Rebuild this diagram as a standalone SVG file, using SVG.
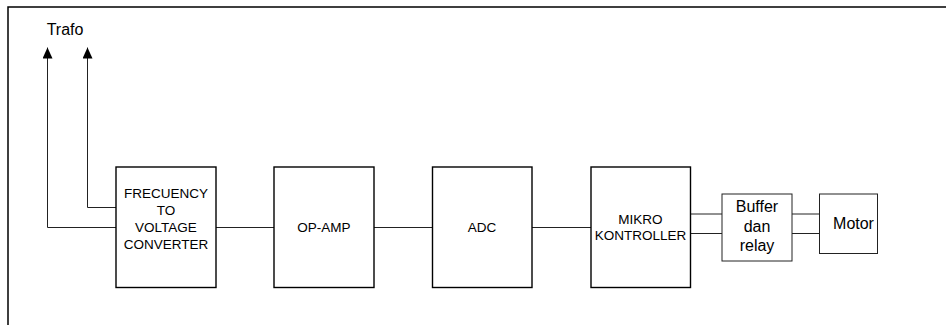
<svg xmlns="http://www.w3.org/2000/svg" width="946" height="325" viewBox="0 0 946 325">
<style>
.blk{fill:#fff;stroke:#000;stroke-width:1.4}
.sm{fill:#fff;stroke:#222;stroke-width:1}
.ln{fill:none;stroke:#222;stroke-width:1}
.t{font-family:"Liberation Sans",Arial,sans-serif;fill:#000;text-anchor:middle}
.s13{font-size:13.5px}
.s16{font-size:16px}
</style>
<defs>
<marker id="ah" markerWidth="11" markerHeight="10" refX="11" refY="5" orient="auto" markerUnits="userSpaceOnUse" viewBox="0 0 11 10">
<path d="M0,0 L11,5 L0,10 Z" fill="#000"/>
</marker>
</defs>
<rect width="946" height="325" fill="#fff"/>
<g id="frame"><path d="M8,325 V7 H946" fill="none" stroke="#000" stroke-width="1.5"/></g>
<g id="connectors">
<path class="ln" d="M116,227.5 H47.5 V47.5" marker-end="url(#ah)"/>
<path class="ln" d="M116,207.5 H87.5 V47.5" marker-end="url(#ah)"/>
<path class="ln" d="M216,227.5 H274"/>
<path class="ln" d="M374,227.5 H432"/>
<path class="ln" d="M532,227.5 H591"/>
<path class="ln" d="M690,214 H722"/>
<path class="ln" d="M690,233.5 H722"/>
<path class="ln" d="M792,214 H819"/>
<path class="ln" d="M792,233.5 H819"/>
</g>
<g id="trafo"><text class="t s16" x="65" y="35">Trafo</text></g>
<g id="fvc">
<rect class="blk" x="116" y="167" width="100" height="120.5"/>
<text class="t s13" x="166" y="198">FRECUENCY</text>
<text class="t s13" x="166" y="215">TO</text>
<text class="t s13" x="166" y="232">VOLTAGE</text>
<text class="t s13" x="166" y="249">CONVERTER</text>
</g>
<g id="opamp">
<rect class="blk" x="274" y="167" width="100" height="120.5"/>
<text class="t s13" x="324" y="232">OP-AMP</text>
</g>
<g id="adc">
<rect class="blk" x="432.5" y="167" width="99.5" height="120.5"/>
<text class="t s13" x="482" y="232">ADC</text>
</g>
<g id="mikro">
<rect class="blk" x="591" y="167" width="99.5" height="120.5"/>
<text class="t s13" x="640.5" y="224">MIKRO</text>
<text class="t s13" x="640.5" y="240">KONTROLLER</text>
</g>
<g id="buffer">
<rect class="sm" x="722" y="194" width="70" height="67"/>
<text class="t s16" x="757" y="211.5">Buffer</text>
<text class="t s16" x="757" y="231.5">dan</text>
<text class="t s16" x="757" y="251">relay</text>
</g>
<g id="motor">
<rect class="sm" x="819.5" y="194" width="58" height="59.5"/>
<text class="t s16" x="853.5" y="229">Motor</text>
</g>
</svg>
